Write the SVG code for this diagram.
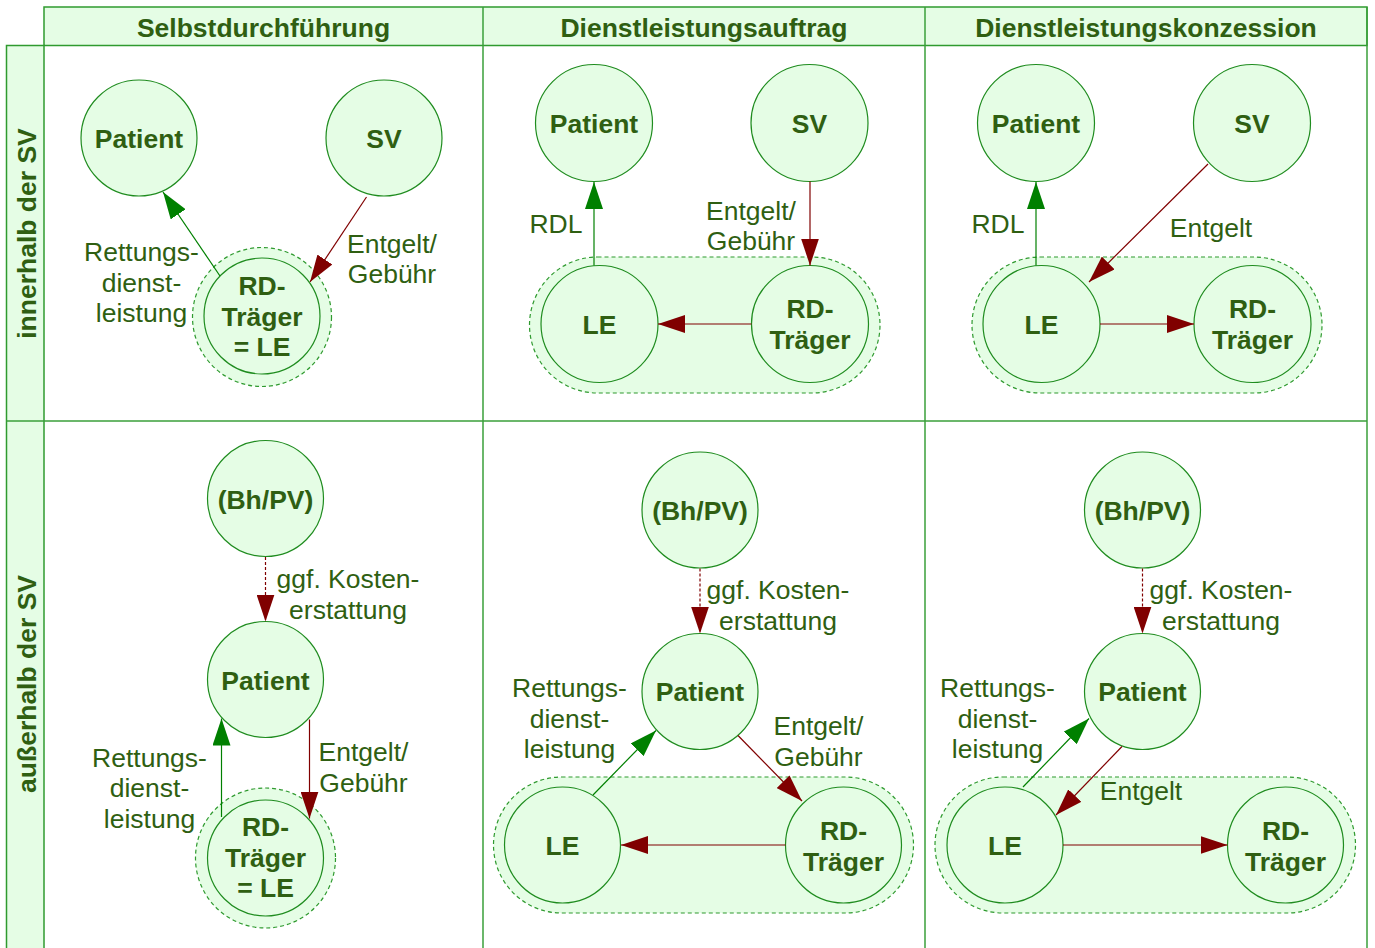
<svg xmlns="http://www.w3.org/2000/svg" width="1375" height="948" viewBox="0 0 1375 948">
<defs>
<style>
.hdr{fill:#e5fde5;stroke:#2f9a2f;stroke-width:1.5}
.grid{stroke:#3a9f3a;stroke-width:1.5;fill:none}
.node{fill:#e5fde5;stroke:#1f8c1f;stroke-width:1.2}
.grp{fill:#e5fde5;stroke:#2f9a2f;stroke-width:1.2;stroke-dasharray:4,3}
.nl{font-family:"Liberation Sans",Arial,sans-serif;font-size:26.5px;font-weight:bold;fill:#2f5f12;text-anchor:middle}
.el{font-family:"Liberation Sans",Arial,sans-serif;font-size:26.5px;fill:#2f5f12;text-anchor:middle}
.g{stroke:#008000;stroke-width:1.2;fill:none;marker-end:url(#ag)}
.r{stroke:#800000;stroke-width:1.2;fill:none;marker-end:url(#ar)}
.rd{stroke:#800000;stroke-width:1.2;fill:none;stroke-dasharray:3,2;marker-end:url(#ar)}
</style>
<marker id="ag" markerUnits="userSpaceOnUse" markerWidth="27" markerHeight="18" refX="27" refY="9" orient="auto"><path d="M0,0 L27,9 L0,18 z" fill="#008000"/></marker>
<marker id="ar" markerUnits="userSpaceOnUse" markerWidth="27" markerHeight="18" refX="27" refY="9" orient="auto"><path d="M0,0 L27,9 L0,18 z" fill="#800000"/></marker>
</defs>
<rect width="1375" height="948" fill="#ffffff"/>
<g id="grid">
<rect class="hdr" x="44" y="7" width="1323" height="38.5"/>
<rect class="hdr" x="6.5" y="45.5" width="37.5" height="910"/>
<line class="grid" x1="44" y1="421" x2="1367" y2="421"/>
<line class="grid" x1="6.5" y1="421" x2="44" y2="421"/>
<line class="grid" x1="483" y1="7" x2="483" y2="948"/>
<line class="grid" x1="925" y1="7" x2="925" y2="948"/>
<line class="grid" x1="1367" y1="7" x2="1367" y2="948"/>
<text class="nl" x="263.5" y="37">Selbstdurchführung</text>
<text class="nl" x="704" y="37">Dienstleistungsauftrag</text>
<text class="nl" x="1146" y="37">Dienstleistungskonzession</text>
<text class="nl" x="35.5" y="233.5" transform="rotate(-90 35.5 233.5)">innerhalb der SV</text>
<text class="nl" x="35.5" y="684" transform="rotate(-90 35.5 684)">außerhalb der SV</text>
</g>
<g id="groups">
<circle class="grp" cx="262" cy="317" r="69.5"/>
<rect class="grp" x="529.5" y="257" width="350.5" height="136" rx="68"/>
<rect class="grp" x="972" y="257" width="350" height="136" rx="68"/>
<circle class="grp" cx="265.5" cy="858" r="70"/>
<rect class="grp" x="493.5" y="777" width="420" height="136" rx="68"/>
<rect class="grp" x="935" y="777" width="420.5" height="136" rx="68"/>
</g>
<g id="p1-patient"><circle class="node" cx="139" cy="138" r="58"/><text class="nl" x="139" y="147.5">Patient</text></g>
<g id="p1-sv"><circle class="node" cx="384" cy="138" r="58"/><text class="nl" x="384" y="147.5">SV</text></g>
<g id="p1-rd"><circle class="node" cx="262" cy="316" r="58"/><text class="nl" x="262" y="295">RD-</text><text class="nl" x="262" y="326">Träger</text><text class="nl" x="262" y="356">= LE</text></g>
<g id="p2-patient"><circle class="node" cx="594" cy="123" r="58.5"/><text class="nl" x="594" y="133">Patient</text></g>
<g id="p2-sv"><circle class="node" cx="809.5" cy="123" r="58.5"/><text class="nl" x="809.5" y="133">SV</text></g>
<g id="p2-le"><circle class="node" cx="599.5" cy="324" r="58.5"/><text class="nl" x="599.5" y="333.5">LE</text></g>
<g id="p2-rd"><circle class="node" cx="810" cy="324" r="58.5"/><text class="nl" x="810" y="318">RD-</text><text class="nl" x="810" y="348.5">Träger</text></g>
<g id="p3-patient"><circle class="node" cx="1036" cy="123" r="58.5"/><text class="nl" x="1036" y="133">Patient</text></g>
<g id="p3-sv"><circle class="node" cx="1252" cy="123" r="58.5"/><text class="nl" x="1252" y="133">SV</text></g>
<g id="p3-le"><circle class="node" cx="1041.5" cy="324" r="58.5"/><text class="nl" x="1041.5" y="333.5">LE</text></g>
<g id="p3-rd"><circle class="node" cx="1252.5" cy="324" r="58.5"/><text class="nl" x="1252.5" y="318">RD-</text><text class="nl" x="1252.5" y="348.5">Träger</text></g>
<g id="p4-bh"><circle class="node" cx="265.5" cy="498.5" r="58"/><text class="nl" x="265.5" y="508.5">(Bh/PV)</text></g>
<g id="p4-patient"><circle class="node" cx="265.5" cy="679.5" r="58"/><text class="nl" x="265.5" y="689.5">Patient</text></g>
<g id="p4-rd"><circle class="node" cx="265.5" cy="858" r="58"/><text class="nl" x="265.5" y="836">RD-</text><text class="nl" x="265.5" y="867">Träger</text><text class="nl" x="265.5" y="897">= LE</text></g>
<g id="p5-bh"><circle class="node" cx="700" cy="510" r="58"/><text class="nl" x="700" y="520">(Bh/PV)</text></g>
<g id="p5-patient"><circle class="node" cx="700" cy="691.5" r="58"/><text class="nl" x="700" y="700.5">Patient</text></g>
<g id="p5-le"><circle class="node" cx="562.5" cy="845" r="58"/><text class="nl" x="562.5" y="855">LE</text></g>
<g id="p5-rd"><circle class="node" cx="843.5" cy="845" r="58"/><text class="nl" x="843.5" y="839.5">RD-</text><text class="nl" x="843.5" y="870.5">Träger</text></g>
<g id="p6-bh"><circle class="node" cx="1142.5" cy="510" r="58"/><text class="nl" x="1142.5" y="520">(Bh/PV)</text></g>
<g id="p6-patient"><circle class="node" cx="1142.5" cy="691.5" r="58"/><text class="nl" x="1142.5" y="700.5">Patient</text></g>
<g id="p6-le"><circle class="node" cx="1005" cy="845" r="58"/><text class="nl" x="1005" y="855">LE</text></g>
<g id="p6-rd"><circle class="node" cx="1285.5" cy="845" r="58"/><text class="nl" x="1285.5" y="839.5">RD-</text><text class="nl" x="1285.5" y="870.5">Träger</text></g>
<g id="connectors">
<line class="g" x1="220" y1="276" x2="163" y2="192"/>
<line class="r" x1="366.5" y1="197" x2="310" y2="282"/>
<line class="g" x1="594" y1="265.5" x2="594" y2="182"/>
<line class="r" x1="810" y1="181.5" x2="810" y2="265.5"/>
<line class="r" x1="751.5" y1="324" x2="658" y2="324"/>
<line class="g" x1="1036" y1="265.5" x2="1036" y2="182"/>
<line class="r" x1="1208" y1="164" x2="1089" y2="282"/>
<line class="r" x1="1100" y1="324" x2="1194" y2="324"/>
<line class="rd" x1="265.5" y1="557" x2="265.5" y2="621.5"/>
<line class="g" x1="221.5" y1="817" x2="221.5" y2="718.5"/>
<line class="r" x1="309.5" y1="719.5" x2="309.5" y2="818.5"/>
<line class="rd" x1="700" y1="568.5" x2="700" y2="633.5"/>
<line class="g" x1="593" y1="795" x2="656" y2="730.5"/>
<line class="r" x1="738" y1="735.5" x2="802" y2="801"/>
<line class="r" x1="785.5" y1="845" x2="621" y2="845"/>
<line class="rd" x1="1142.5" y1="568.5" x2="1142.5" y2="633.5"/>
<line class="g" x1="1023" y1="787" x2="1089" y2="718.5"/>
<line class="r" x1="1122" y1="746.5" x2="1056" y2="815"/>
<line class="r" x1="1063" y1="845" x2="1227.5" y2="845"/>
</g>
<g id="edge-labels">
<text class="el" x="141.5" y="261">Rettungs-</text><text class="el" x="141.5" y="291.5">dienst-</text><text class="el" x="141.5" y="322">leistung</text>
<text class="el" x="392" y="252.5">Entgelt/</text><text class="el" x="392" y="283">Gebühr</text>
<text class="el" x="556" y="232.5">RDL</text>
<text class="el" x="751" y="220">Entgelt/</text><text class="el" x="751" y="250">Gebühr</text>
<text class="el" x="998" y="232.5">RDL</text>
<text class="el" x="1211" y="237">Entgelt</text>
<text class="el" x="348" y="588">ggf. Kosten-</text><text class="el" x="348" y="619">erstattung</text>
<text class="el" x="149.5" y="767">Rettungs-</text><text class="el" x="149.5" y="797">dienst-</text><text class="el" x="149.5" y="828">leistung</text>
<text class="el" x="363.5" y="761">Entgelt/</text><text class="el" x="363.5" y="791.5">Gebühr</text>
<text class="el" x="778" y="598.5">ggf. Kosten-</text><text class="el" x="778" y="629.5">erstattung</text>
<text class="el" x="569.5" y="696.5">Rettungs-</text><text class="el" x="569.5" y="727.5">dienst-</text><text class="el" x="569.5" y="758">leistung</text>
<text class="el" x="818.5" y="734.5">Entgelt/</text><text class="el" x="818.5" y="766">Gebühr</text>
<text class="el" x="1221" y="598.5">ggf. Kosten-</text><text class="el" x="1221" y="629.5">erstattung</text>
<text class="el" x="997.5" y="696.5">Rettungs-</text><text class="el" x="997.5" y="727.5">dienst-</text><text class="el" x="997.5" y="758">leistung</text>
<text class="el" x="1141" y="799.5">Entgelt</text>
</g>
</svg>
